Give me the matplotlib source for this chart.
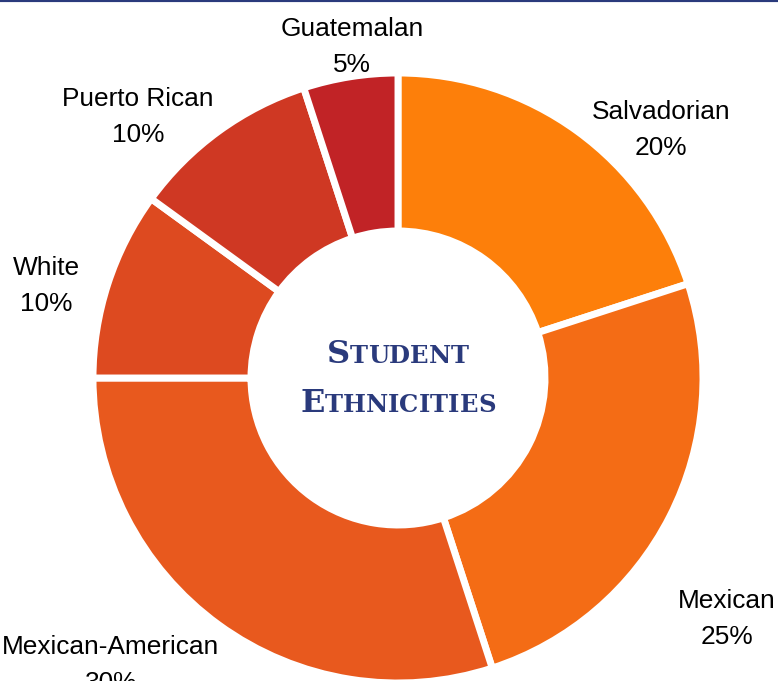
import matplotlib.pyplot as plt

groups = ['Salvadorian', 'Mexican', 'Mexican-American', 'White', 'Puerto Rican', 'Guatemalan']
shares = [20, 25, 30, 10, 10, 5]
colors = ['#fd7f0a', '#f46c15', '#e8591e', '#dd4a20', '#cf3823', '#c12326']
# label block centres, in pixels from the top-left corner
label_xy = [(661, 130), (727, 619), (111, 665), (46, 286), (138, 117), (352, 47)]
title_lines = ['Student', 'Ethnicities']

W, H = 778, 681
navy = '#2a3a7c'
cx, cy = 398, H - 378

fig = plt.figure(figsize=(W / 100, H / 100), dpi=100)
ax = fig.add_axes([0, 0, 1, 1])

ax.pie(shares, colors=colors, startangle=90, counterclock=False,
       radius=305, center=(cx, cy),
       wedgeprops=dict(width=158, edgecolor='white', linewidth=5))
ax.set_xlim(0, W)
ax.set_ylim(0, H)
ax.set_aspect('equal')
ax.axis('off')

for name, v, (x, y) in zip(groups, shares, label_xy):
    ax.text(x, H - y, f'{name}\n{v}%', ha='center', va='center',
            fontsize=18.9, family='Liberation Sans', color='black',
            linespacing=1.65)

# top rule
ax.axhline(H, color=navy, lw=3, clip_on=False)

# centre title in small caps
renderer = fig.canvas.get_renderer()
baselines = [363, 412]
for word, base in zip(title_lines, baselines):
    parts = []
    for ch in word:
        size = 23 if ch.isupper() else 17.5
        t = ax.text(0, H - base, ch.upper(), fontsize=size, family=['DejaVu Serif'],
                    fontweight='bold', color=navy, ha='left', va='baseline')
        parts.append(t)
    widths = [t.get_window_extent(renderer).width for t in parts]
    x = cx - sum(widths) / 2
    for t, w in zip(parts, widths):
        t.set_x(x)
        x += w

fig.savefig('out.png', dpi=100)
